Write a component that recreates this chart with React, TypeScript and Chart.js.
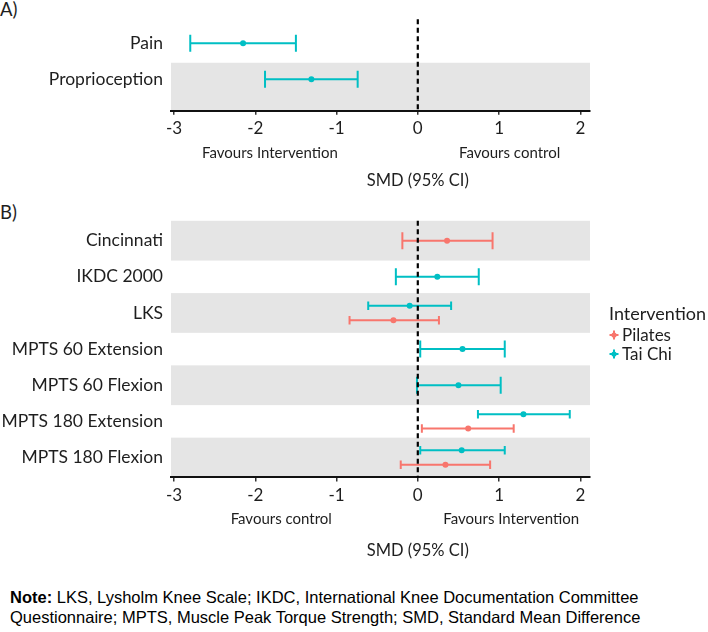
import React, { useEffect, useRef } from "react";
import { Chart, registerables } from "chart.js";

Chart.register(...registerables);

// ---------- data ----------
const panelACategories = ["Pain", "Proprioception"];
const panelATaiChiMean = [-2.15, -1.31];
const panelATaiChiLow = [-2.8, -1.88];
const panelATaiChiHigh = [-1.5, -0.74];

const panelBCategories = [
  "Cincinnati",
  "IKDC 2000",
  "LKS",
  "MPTS 60 Extension",
  "MPTS 60 Flexion",
  "MPTS 180 Extension",
  "MPTS 180 Flexion",
];
const taiChiMean = [null, 0.24, -0.1, 0.55, 0.5, 1.3, 0.54];
const taiChiLow = [null, -0.27, -0.61, 0.03, -0.01, 0.74, 0.03];
const taiChiHigh = [null, 0.75, 0.41, 1.07, 1.02, 1.87, 1.07];
const pilatesMean = [0.36, null, -0.3, null, null, 0.62, 0.34];
const pilatesLow = [-0.19, null, -0.84, null, null, 0.05, -0.21];
const pilatesHigh = [0.92, null, 0.26, null, null, 1.18, 0.89];

const xTickValues = [-3, -2, -1, 0, 1, 2];
const seriesNames = ["Pilates", "Tai Chi"];
const legendTitle = "Intervention";
const axisTitle = "SMD (95% CI)";
const panelAFavours = [
  { text: "Favours Intervention", at: -1.82 },
  { text: "Favours control", at: 1.13 },
];
const panelBFavours = [
  { text: "Favours control", at: -1.68 },
  { text: "Favours Intervention", at: 1.15 },
];

// ---------- style ----------
const PILATES = "#F8766D";
const TAICHI = "#00BFC4";
const FONT = "Lato, 'Noto Sans', sans-serif";
const TEXT = "#1e1e1e";
const DODGE = 0.2;
const CAP = 0.235;

type Pt = { x: number; y: number; lo: number; hi: number; cap: number };

function seriesPoints(
  n: number,
  mean: (number | null)[],
  low: (number | null)[],
  high: (number | null)[],
  other: (number | null)[] | null,
  dir: number
): Pt[] {
  const pts: Pt[] = [];
  mean.forEach((m, i) => {
    if (m == null) return;
    const dodged = !!other && other[i] != null;
    pts.push({
      x: m,
      y: n - i + (dodged ? dir * DODGE : 0),
      lo: low[i] as number,
      hi: high[i] as number,
      cap: dodged ? CAP / 2 : CAP,
    });
  });
  return pts;
}

const forestPlugin = {
  id: "forest",
  beforeDraw(chart: any, _a: any, opts: any) {
    const { ctx, chartArea: a, scales } = chart;
    const y = scales.y;
    ctx.save();
    ctx.fillStyle = "#E5E5E5";
    for (let r = 1; r <= opts.rows; r += 2) {
      const top = Math.max(y.getPixelForValue(r + opts.bandUp), a.top);
      const bottom = r === 1 ? a.bottom : y.getPixelForValue(r - opts.bandDown);
      ctx.fillRect(a.left, top, a.right - a.left, bottom - top);
    }
    ctx.restore();
  },
  beforeDatasetsDraw(chart: any) {
    const { ctx, chartArea: a, scales } = chart;
    const { x, y } = scales;
    ctx.save();
    ctx.lineWidth = 2;
    chart.data.datasets.forEach((ds: any) => {
      ctx.strokeStyle = ds.borderColor;
      ds.data.forEach((p: Pt) => {
        const yp = y.getPixelForValue(p.y);
        const h = Math.abs(y.getPixelForValue(p.y + p.cap) - yp);
        const x0 = x.getPixelForValue(p.lo);
        const x1 = x.getPixelForValue(p.hi);
        ctx.beginPath();
        ctx.moveTo(x0, yp);
        ctx.lineTo(x1, yp);
        ctx.moveTo(x0, yp - h);
        ctx.lineTo(x0, yp + h);
        ctx.moveTo(x1, yp - h);
        ctx.lineTo(x1, yp + h);
        ctx.stroke();
      });
    });
    const zx = x.getPixelForValue(0);
    ctx.strokeStyle = "#000";
    ctx.lineWidth = 2.2;
    ctx.setLineDash([5, 3.5]);
    ctx.beginPath();
    ctx.moveTo(zx, a.top);
    ctx.lineTo(zx, a.bottom);
    ctx.stroke();
    ctx.restore();
  },
  afterDraw(chart: any, _a: any, opts: any) {
    const { ctx, chartArea: a, scales } = chart;
    const x = scales.x;
    ctx.save();
    ctx.fillStyle = TEXT;
    ctx.textAlign = "center";
    ctx.textBaseline = "middle";
    ctx.font = `15px ${FONT}`;
    (opts.favours || []).forEach((f: any) => {
      ctx.fillText(f.text, x.getPixelForValue(f.at), a.bottom + 42);
    });
    ctx.font = `16.5px ${FONT}`;
    ctx.fillText(axisTitle, x.getPixelForValue(0), a.bottom + opts.titleOffset);
    ctx.restore();
  },
};

function makeConfig(
  categories: string[],
  datasets: any[],
  yMin: number,
  yMax: number,
  height: number,
  top: number,
  bottom: number,
  pluginOpts: any
) {
  const n = categories.length;
  return {
    type: "scatter" as const,
    data: { datasets },
    plugins: [forestPlugin],
    options: {
      animation: false,
      responsive: true,
      maintainAspectRatio: false,
      events: [],
      layout: { padding: { left: 0, right: 118, top, bottom: 0 } },
      plugins: {
        legend: { display: false },
        tooltip: { enabled: false },
        forest: pluginOpts,
      },
      scales: {
        x: {
          type: "linear",
          min: -3.037,
          max: 2.119,
          afterBuildTicks: (s: any) => {
            s.ticks = xTickValues.map((v) => ({ value: v }));
          },
          afterFit: (s: any) => {
            s.height = height - bottom;
          },
          grid: {
            display: true,
            drawOnChartArea: false,
            drawTicks: true,
            tickLength: 4,
            color: "#333",
            lineWidth: 1.5,
          },
          border: { display: true, color: "#111", width: 2 },
          ticks: {
            color: TEXT,
            font: { family: FONT, size: 17 },
            padding: 4,
            maxRotation: 0,
            autoSkip: false,
          },
        },
        y: {
          type: "linear",
          min: yMin,
          max: yMax,
          afterBuildTicks: (s: any) => {
            s.ticks = categories.map((_, i) => ({ value: n - i }));
          },
          afterFit: (s: any) => {
            s.width = 171;
          },
          grid: { display: false, drawTicks: false },
          border: { display: false },
          ticks: {
            color: TEXT,
            font: { family: FONT, size: 17.5 },
            padding: 8,
            autoSkip: false,
            callback: (v: any) => categories[n - Math.round(Number(v))],
          },
        },
      },
    },
  };
}

function ChartPanel({ config, style }: { config: any; style: React.CSSProperties }) {
  const ref = useRef<HTMLCanvasElement | null>(null);
  useEffect(() => {
    if (!ref.current) return;
    const chart = new Chart(ref.current, config);
    return () => chart.destroy();
  }, [config]);
  return (
    <div style={{ position: "absolute", left: 0, width: 708, ...style }}>
      <canvas ref={ref} />
    </div>
  );
}

function pointDataset(label: string, color: string, data: Pt[]) {
  return {
    label,
    data,
    borderColor: color,
    backgroundColor: color,
    pointRadius: 3,
    pointBorderWidth: 0,
    showLine: false,
  };
}

const nA = panelACategories.length;
const configA = makeConfig(
  panelACategories,
  [
    pointDataset(
      seriesNames[1],
      TAICHI,
      seriesPoints(nA, panelATaiChiMean, panelATaiChiLow, panelATaiChiHigh, null, 1)
    ),
  ],
  0.128,
  2.667,
  200,
  19.3,
  110.7,
  { rows: nA, bandUp: 0.46, bandDown: 0.55, favours: panelAFavours, titleOffset: 70 }
);

const nB = panelBCategories.length;
const configB = makeConfig(
  panelBCategories,
  [
    pointDataset(
      seriesNames[0],
      PILATES,
      seriesPoints(nB, pilatesMean, pilatesLow, pilatesHigh, taiChiMean, -1)
    ),
    pointDataset(
      seriesNames[1],
      TAICHI,
      seriesPoints(nB, taiChiMean, taiChiLow, taiChiHigh, pilatesMean, 1)
    ),
  ],
  0.45,
  7.55,
  370,
  20.8,
  277.4,
  { rows: nB, bandUp: 0.55, bandDown: 0.55, favours: panelBFavours, titleOffset: 73 }
);

function LegendMarker({ color }: { color: string }) {
  return (
    <svg width={10} height={10} style={{ position: "absolute", left: -13, top: 6 }}>
      <line x1={0.5} y1={5} x2={9.5} y2={5} stroke={color} strokeWidth={2} />
      <line x1={5} y1={0.5} x2={5} y2={9.5} stroke={color} strokeWidth={2} />
      <circle cx={5} cy={5} r={2.6} fill={color} />
    </svg>
  );
}

export default function App() {
  const colors = [PILATES, TAICHI];
  return (
    <div
      style={{
        position: "absolute",
        left: 0,
        top: 0,
        width: 708,
        height: 632,
        background: "#fff",
        fontFamily: FONT,
        color: TEXT,
        overflow: "hidden",
      }}
    >
      <div style={{ position: "absolute", left: 0, top: -1, fontSize: 18.5, lineHeight: "20px" }}>A)</div>
      <ChartPanel config={configA} style={{ top: 0, height: 200 }} />
      <div style={{ position: "absolute", left: 0, top: 202, fontSize: 18.5, lineHeight: "20px" }}>B)</div>
      <ChartPanel config={configB} style={{ top: 200, height: 370 }} />
      <div style={{ position: "absolute", left: 609, top: 302, fontSize: 18, lineHeight: "22px" }}>
        {legendTitle}
      </div>
      {seriesNames.map((s, i) => (
        <div
          key={s}
          style={{
            position: "absolute",
            left: 622,
            top: 324 + i * 19,
            fontSize: 17,
            lineHeight: "21px",
          }}
        >
          <LegendMarker color={colors[i]} />
          {s}
        </div>
      ))}
      <div
        style={{
          position: "absolute",
          left: 10,
          top: 588,
          fontFamily: "'Liberation Sans', Arial, sans-serif",
          fontSize: 16.5,
          lineHeight: "19.5px",
          color: "#000",
          whiteSpace: "nowrap",
        }}
      >
        <b>Note:</b> LKS, Lysholm Knee Scale; IKDC, International Knee Documentation Committee
        <br />
        Questionnaire; MPTS, Muscle Peak Torque Strength; SMD, Standard Mean Difference
      </div>
    </div>
  );
}
